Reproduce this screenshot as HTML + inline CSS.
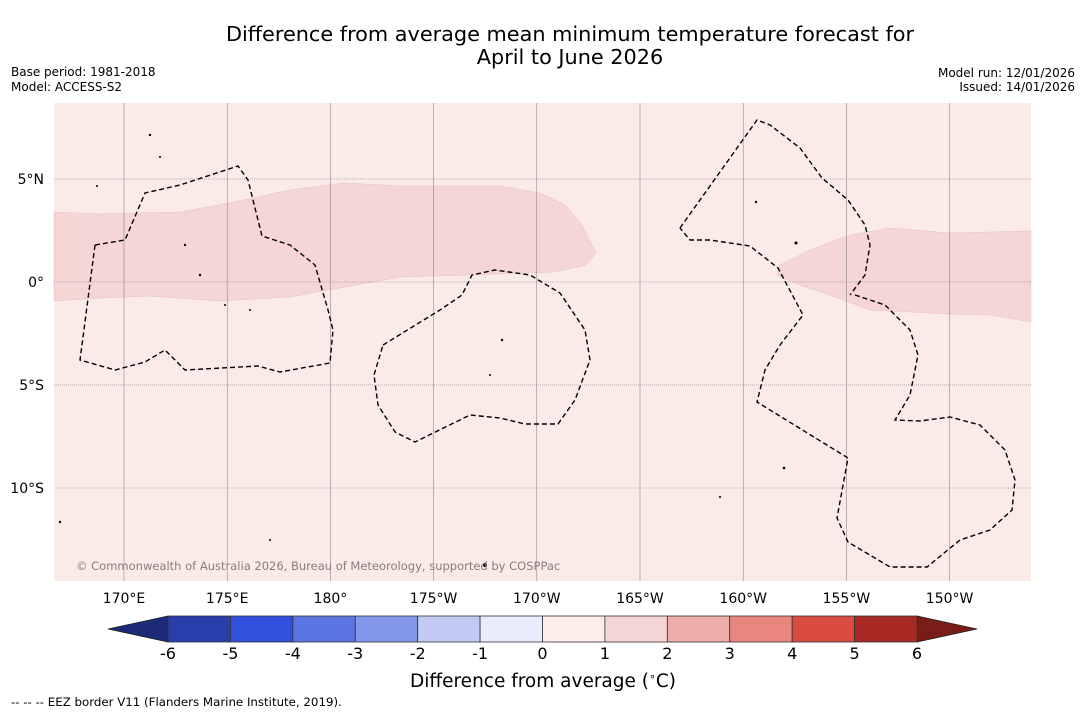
<!DOCTYPE html>
<html><head><meta charset="utf-8"><style>
body{margin:0;background:#fff;font-family:"Liberation Sans","DejaVu Sans",sans-serif}
</style></head><body>
<svg width="1085" height="713" viewBox="0 0 1085 713" xmlns="http://www.w3.org/2000/svg" font-family="DejaVu Sans, Liberation Sans, sans-serif">
<text x="570" y="41" text-anchor="middle" font-size="20.8" fill="#000">Difference from average mean minimum temperature forecast for</text>
<text x="570" y="64" text-anchor="middle" font-size="20.8" fill="#000">April to June 2026</text>
<text x="11" y="76" font-size="12">Base period: 1981-2018</text>
<text x="11" y="91" font-size="12">Model: ACCESS-S2</text>
<text x="1075" y="77" font-size="12" text-anchor="end">Model run: 12/01/2026</text>
<text x="1075" y="91" font-size="12" text-anchor="end">Issued: 14/01/2026</text>
<g>
<rect x="54" y="103" width="977" height="478" fill="#fbebe8"/>
<path fill="#f6d6d4" stroke="#e6c0bd" stroke-width="0.5" d="M54,212 L100,214 L180,212 L230,203 L290,190 L345,183 L400,186 L500,186 L540,193 L565,205 L582,225 L592,245 L596,253 L586,265 L555,272 L470,275 L400,277 L345,287 L290,297 L220,301 L150,296 L100,298 L54,301 Z"/>
<path fill="#f6d6d4" stroke="#e6c0bd" stroke-width="0.5" d="M778,266 L810,250 L850,235 L890,228 L950,233 L1031,231 L1031,322 L990,315 L950,314 L870,310 L830,295 L800,285 L778,276 Z"/>
<g id="grid" stroke="#777" stroke-width="0.5"></g>
<g fill="none" stroke="#000" stroke-width="1.4" stroke-dasharray="5,3">
<path d="M95,245 L125,240 L145,193 L180,185 L238,166 L248,180 L262,236 L290,245 L315,265 L328,310 L333,330 L330,363 L280,372 L258,366 L185,370 L165,350 L145,362 L115,370 L80,360 Z"/>
<path d="M383,345 L440,310 L462,295 L472,275 L495,270 L530,275 L560,293 L585,330 L590,360 L575,400 L558,424 L525,424 L500,418 L470,415 L415,442 L395,432 L378,405 L374,375 Z"/>
<path d="M680,228 L757,120 L770,125 L800,148 L822,178 L848,200 L865,225 L870,245 L865,275 L850,295"/>
<path d="M855,295 L885,305 L910,330 L918,355 L910,395 L895,420 L920,421 L950,417 L980,425 L1005,450 L1015,480 L1012,510 L990,530 L960,540 L927,567 L890,567 L848,542 L837,518 L848,458 L757,402 L765,370 L780,345 L803,315 L778,268 L750,246 L710,240 L690,240 L680,228"/>
</g>
<g fill="#000">
<circle cx="150" cy="135" r="1.2"/><circle cx="160" cy="157" r="1"/><circle cx="185" cy="245" r="1.2"/><circle cx="200" cy="275" r="1.2"/><circle cx="225" cy="305" r="1"/><circle cx="250" cy="310" r="1"/><circle cx="97" cy="186" r="1"/><circle cx="756" cy="202" r="1.2"/><circle cx="796" cy="243" r="1.5"/><circle cx="502" cy="340" r="1.2"/><circle cx="490" cy="375" r="1"/><circle cx="784" cy="468" r="1.3"/><circle cx="720" cy="497" r="1"/><circle cx="485" cy="565" r="2"/><circle cx="60" cy="522" r="1.2"/><circle cx="270" cy="540" r="1"/>
</g>
<text x="76" y="570" font-size="11.5" fill="#8a7a7a">© Commonwealth of Australia 2026, Bureau of Meteorology, supported by COSPPac</text>
</g>
<g id="axes" font-size="14" fill="#000"></g>
<g id="cbar"></g>
<text x="543" y="687" text-anchor="middle" font-size="18.5">Difference from average (<tspan font-size="11" dy="-7">∘</tspan><tspan dy="7">C)</tspan></text>
<text x="11" y="706" font-size="11.8">--  --  -- EEZ border V11 (Flanders Marine Institute, 2019).</text>
</svg>
<script>
const lonTicks=[170,175,180,185,190,195,200,205,210];
const lonLabels=["170°E","175°E","180°","175°W","170°W","165°W","160°W","155°W","150°W"];
const latTicks=[5,0,-5,-10];
const latLabels=["5°N","0°","5°S","10°S"];
const levels=[-6,-5,-4,-3,-2,-1,0,1,2,3,4,5,6];
const binColors=["#2a3eaa","#3050dd","#5a74e2","#8296ea","#c2caf3","#e9ecfa","#fcecea","#f6d6d4","#edaeaa","#e8877f","#da4b42","#a92a24"];
const lowColor="#1c2a78", highColor="#7a1c18";
const NS="http://www.w3.org/2000/svg";
const xLon=l=>124+(l-170)*20.64;
const yLat=l=>282-l*20.6;
const grid=document.getElementById('grid'),axes=document.getElementById('axes'),cb=document.getElementById('cbar');
function mk(tag,attrs,parent){const e=document.createElementNS(NS,tag);for(const k in attrs)e.setAttribute(k,attrs[k]);parent.appendChild(e);return e;}
lonTicks.forEach((l,i)=>{
 const ln=mk('line',{x1:xLon(l),x2:xLon(l),y1:103,y2:581},grid);
 
 
 const t=mk('text',{x:xLon(l),y:603,'text-anchor':'middle'},axes);t.textContent=lonLabels[i];
 
 
});
latTicks.forEach((l,i)=>{
 const ln=mk('line',{x1:54,x2:1031,y1:yLat(l),y2:yLat(l),'stroke-dasharray':'1,1'},grid);
 
 
 const t=mk('text',{x:44,y:yLat(l)+5,'text-anchor':'end'},axes);t.textContent=latLabels[i];
 
 
});
const cx0=168,cx1=917,cy=616,ch=26;
const cbX=v=>cx0+(v-levels[0])/(levels[levels.length-1]-levels[0])*(cx1-cx0);
const lt=mk('path',{d:`M${cx0},${cy} L108,${cy+ch/2} L${cx0},${cy+ch} Z`,fill:lowColor,stroke:'#222','stroke-width':0.8},cb);


const rt=mk('path',{d:`M${cx1},${cy} L977,${cy+ch/2} L${cx1},${cy+ch} Z`,fill:highColor,stroke:'#222','stroke-width':0.8},cb);


binColors.forEach((c,i)=>{
 const r=mk('rect',{x:cbX(levels[i]),y:cy,width:cbX(levels[i+1])-cbX(levels[i]),height:ch,fill:c,stroke:'#333','stroke-width':0.8},cb);
 
 
});
levels.forEach(v=>{
 const t=mk('text',{x:cbX(v),y:659,'text-anchor':'middle','font-size':16},cb);t.textContent=v;
 
 
});
</script>
</body></html>
